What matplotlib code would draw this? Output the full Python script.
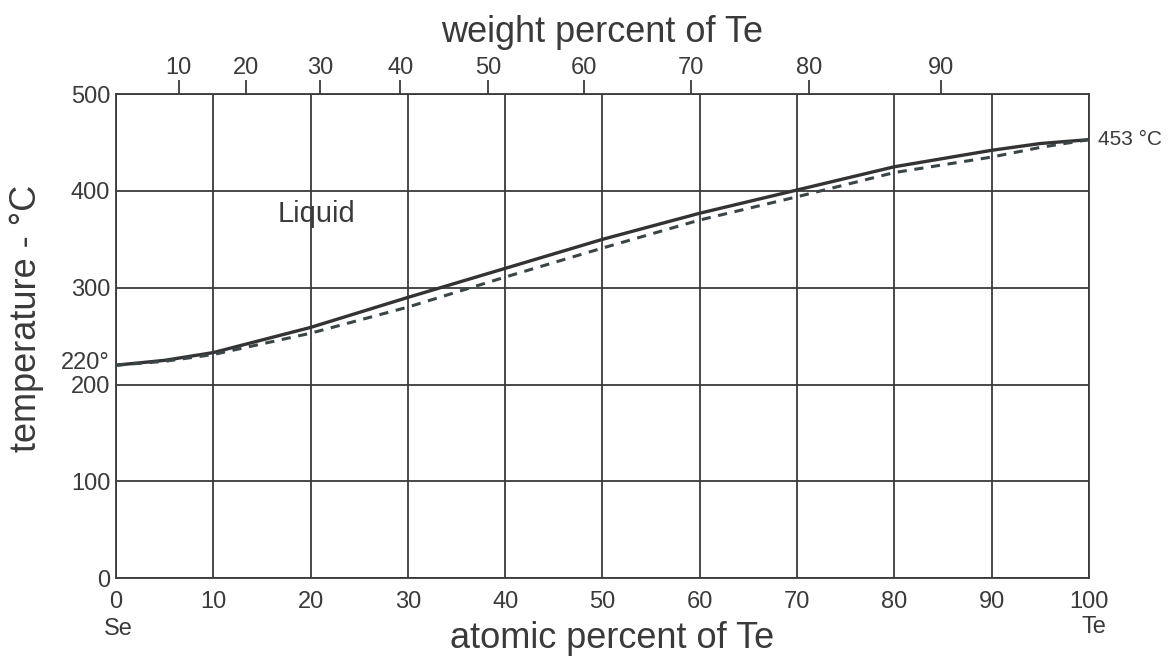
import numpy as np
import matplotlib.pyplot as plt

plt.rcParams['font.family'] = ['Liberation Sans', 'DejaVu Sans']

# Se-Te liquidus (solid) and solidus (dashed), temperature in deg C
at_pct = [0, 5, 10, 20, 30, 40, 50, 60, 70, 80, 90, 95, 100]
liquidus = [220, 225, 233, 259, 290, 320, 350, 377, 401, 425, 442, 449, 453]
solidus = [220, 224, 231, 253, 280, 311, 341, 370, 394, 419, 435, 445, 453]

wt_ticks = [10, 20, 30, 40, 50, 60, 70, 80, 90]
x_ticks = [0, 10, 20, 30, 40, 50, 60, 70, 80, 90, 100]
y_ticks = [0, 100, 200, 300, 400, 500]

M_SE, M_TE = 78.97, 127.6


def at_to_wt(a):
    a = np.asarray(a, dtype=float)
    return 100 * a * M_TE / (a * M_TE + (100 - a) * M_SE)


def wt_to_at(w):
    w = np.asarray(w, dtype=float)
    return 100 * (w / M_TE) / (w / M_TE + (100 - w) / M_SE)


ink = '#3a3a3a'
fig = plt.figure(figsize=(11.71, 6.63), dpi=100)
ax = fig.add_axes([0.099, 0.128, 0.831, 0.730])

ax.set_xlim(0, 100)
ax.set_ylim(0, 500)
ax.set_xticks(x_ticks)
ax.set_yticks(y_ticks)
ax.grid(True, color=ink, lw=1.3)
ax.tick_params(length=0, labelsize=17, colors=ink)
ax.tick_params(axis='x', pad=9)
ax.tick_params(axis='y', pad=4)
for s in ax.spines.values():
    s.set_color(ink)
    s.set_linewidth(1.3)

ax.plot(at_pct, liquidus, color='#333333', lw=2.4, zorder=3)
ax.plot(at_pct, solidus, color='#3a4548', lw=2.2, ls=(0, (3, 2.5)), zorder=3)

ax.set_xlabel('atomic percent of Te', fontsize=26, color=ink)
ax.xaxis.set_label_coords(0.51, -0.088)
ax.set_ylabel('temperature - °C', fontsize=26, color=ink)
ax.yaxis.set_label_coords(-0.074, 0.537)

top = ax.secondary_xaxis('top', functions=(at_to_wt, wt_to_at))
top.set_xticks(wt_ticks)
top.tick_params(direction='out', length=10, width=1.3, labelsize=17,
                colors=ink, pad=1)
top.spines['top'].set_visible(False)
top.set_xlabel('weight percent of Te', fontsize=26, color=ink, labelpad=11)

ax.text(-1.2, -0.082, 'Se', transform=ax.get_xaxis_transform(), fontsize=17,
        color=ink, ha='left', va='top')
ax.text(100.5, -0.078, 'Te', transform=ax.get_xaxis_transform(), fontsize=17,
        color=ink, ha='center', va='top')
ax.text(100.9, 453, '453 °C', fontsize=15, color=ink, ha='left', va='center',
        clip_on=False)
ax.text(-0.6, 222, '220°', fontsize=17, color=ink, ha='right', va='center',
        clip_on=False)
ax.text(20.6, 376, 'Liquid', fontsize=21, color=ink, ha='center', va='center')

fig.savefig('out.png', dpi=100)
